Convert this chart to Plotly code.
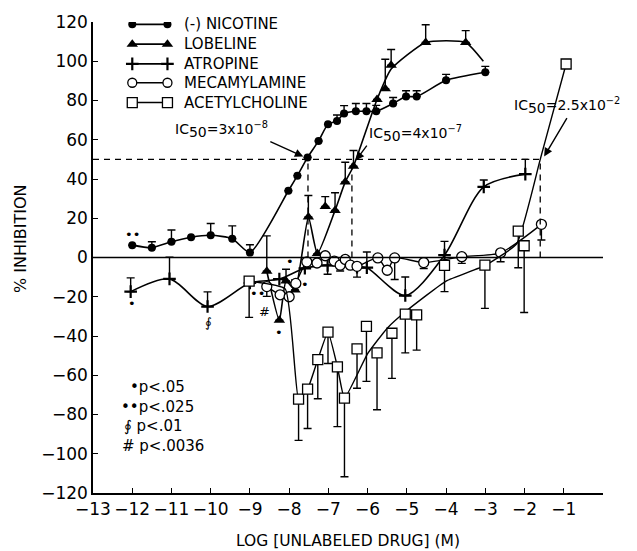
import plotly.graph_objects as go

# ---- data: log molar concentration vs % inhibition ----
nic_x = [-12.0, -11.5, -11.0, -10.5, -10.0, -9.45, -9.0, -8.02, -7.79, -7.53, -7.25, -7.01,
         -6.78, -6.6, -6.3, -6.03, -5.78, -5.35, -5.02, -4.75, -4.0, -3.0]
nic_y = [6.3, 5.0, 8.0, 10.3, 11.3, 9.6, 2.5, 34.0, 41.7, 51.0, 59.4, 67.9,
         69.6, 73.4, 74.5, 74.5, 74.5, 78.5, 82.0, 82.0, 90.3, 94.4]
nic_err = [0, 3, 6, 0, 6, 6.5, 4, 0, 0, 0, 0, 0,
           3, 4, 4, 4, 3, 3, 3, 3, 3, 3]

lob_x = [-8.57, -8.25, -8.08, -7.85, -7.51, -7.28, -7.08, -6.83, -6.57, -6.36,
         -5.76, -5.55, -5.4, -4.52, -3.5]
lob_y = [-7.0, -32.0, -12.0, -16.5, 20.6, 2.0, 26.0, 24.0, 38.5, 46.5,
         80.5, 86.0, 98.0, 109.6, 109.6]
lob_err = [18, 0, 6, 5, 11, 0, 5, 9, 10, 8,
           0, 15, 8, 9, 6]
lob_curve_x = [-8.57, -8.25, -8.08, -7.85, -7.51, -7.28, -6.83, -6.57, -6.36,
               -5.76, -5.4, -4.52, -3.5, -3.05]
lob_curve_y = [-7.0, -32.0, -12.0, -16.5, 20.6, 2.0, 24.0, 38.5, 46.5,
               80.5, 96.0, 109.6, 109.6, 100.0]

atr_x = [-12.04, -11.05, -10.08, -9.0, -8.25, -7.6, -7.02, -6.27, -6.02, -5.04,
         -4.04, -3.04, -1.98]
atr_y = [-17.4, -10.9, -25.0, -13.0, -11.0, -5.5, -4.0, -5.0, -5.2, -19.4,
         1.2, 36.0, 42.5]
atr_err_up = [7, 11, 7.5, 0, 0, 0, 0, 0, 8, 9.5,
              7, 3.5, 7.5]
atr_err_dn = [0, 0, 0, 0, 0, 0, 4.5, 5, 0, 0,
              0, 0, 0]

mec_x = [-8.57, -8.23, -8.0, -7.83, -7.55, -7.29, -7.08, -6.85, -6.7, -6.57, -6.44,
         -6.27, -5.74, -5.5, -5.31, -4.57, -3.6, -2.61, -1.57]
mec_y = [-14.8, -19.0, -20.0, -13.2, -2.2, -2.8, 0.9, -1.8, -3.9, -1.0, -3.9,
         -4.5, -0.2, -6.5, -0.2, -2.6, 0.4, 2.4, 16.9]
mec_err_dn = [5, 0, 0, 0, 0, 0, 0, 0, 3, 0, 0,
              0, 0, 0, 11, 3, 3.4, 4.6, 8]

ach_x = [-9.02, -7.76, -7.53, -7.27, -7.01, -6.77, -6.59, -6.27, -6.03, -5.76,
         -5.38, -5.04, -4.75, -4.04, -3.01, -2.16, -2.01, -0.94]
ach_y = [-12.0, -72.2, -67.1, -52.0, -38.0, -55.7, -71.7, -46.6, -35.1, -48.6,
         -38.6, -28.9, -29.2, -4.0, -3.9, 13.4, 6.0, 98.6]
ach_err_dn = [18.5, 21, 20, 20, 16, 30.5, 40, 20, 28, 29,
              23, 19.7, 18, 13.4, 22, 18.6, 34, 0]
# drawn line: joined segments at low doses, then the fitted curve
ach_line_x = [-9.02, -8.1, -7.76, -7.53, -7.27, -7.01, -6.77, -6.59, -6.0, -5.5,
              -5.0, -4.0, -3.0, -2.2, -1.6, -0.94]
ach_line_y = [-12.0, -16.0, -72.2, -67.1, -52.0, -38.0, -55.7, -71.7, -49.0, -36.0,
              -27.0, -12.0, -4.0, 7.0, 50.0, 98.6]

ic50_x = [-7.52, -6.4, -1.6]
ic50_level = 50

x_ticks = list(range(-13, 0))
y_ticks = list(range(-120, 121, 20))

FONT = "DejaVu Sans"
BLACK = "black"

fig = go.Figure()


def err(plus, minus=None):
    return dict(type="data", symmetric=False, array=plus,
                arrayminus=minus if minus is not None else [0] * len(plus),
                color=BLACK, thickness=1.4, width=4)


# reference lines
fig.add_hline(y=0, line=dict(color=BLACK, width=1.4))
fig.add_shape(type="line", x0=-13, x1=max(ic50_x), y0=ic50_level, y1=ic50_level,
              line=dict(color=BLACK, width=1.3, dash="6px,5px"))
for xv in ic50_x:
    fig.add_shape(type="line", x0=xv, x1=xv, y0=0, y1=ic50_level,
                  line=dict(color=BLACK, width=1.3, dash="6px,5px"))

# nicotine
fig.add_trace(go.Scatter(x=nic_x, y=nic_y, mode="lines+markers",
                         line=dict(color=BLACK, width=1.6, shape="spline", smoothing=0.6),
                         marker=dict(symbol="circle", size=8, color=BLACK),
                         error_y=err(nic_err), showlegend=False))
# lobeline
fig.add_trace(go.Scatter(x=lob_curve_x, y=lob_curve_y, mode="lines",
                         line=dict(color=BLACK, width=1.6, shape="spline", smoothing=0.5),
                         hoverinfo="skip", showlegend=False))
fig.add_trace(go.Scatter(x=lob_x, y=lob_y, mode="markers",
                         marker=dict(symbol="triangle-up", size=10, color=BLACK),
                         error_y=err(lob_err), showlegend=False))
# atropine
fig.add_trace(go.Scatter(x=atr_x, y=atr_y, mode="lines+markers",
                         line=dict(color=BLACK, width=1.6, shape="spline", smoothing=0.8),
                         marker=dict(symbol="cross-thin", size=9,
                                     line=dict(color=BLACK, width=2.2)),
                         error_y=err(atr_err_up, atr_err_dn), showlegend=False))
# mecamylamine
fig.add_trace(go.Scatter(x=mec_x, y=mec_y, mode="lines+markers",
                         line=dict(color=BLACK, width=1.4, shape="spline", smoothing=0.6),
                         marker=dict(symbol="circle", size=10, color="white",
                                     line=dict(color=BLACK, width=1.3)),
                         error_y=err([0] * len(mec_x), mec_err_dn), showlegend=False))
# acetylcholine
fig.add_trace(go.Scatter(x=ach_line_x, y=ach_line_y, mode="lines",
                         line=dict(color=BLACK, width=1.4, shape="spline", smoothing=0.4),
                         hoverinfo="skip", showlegend=False))
fig.add_trace(go.Scatter(x=ach_x, y=ach_y, mode="markers",
                         marker=dict(symbol="square", size=10, color="white",
                                     line=dict(color=BLACK, width=1.3)),
                         error_y=err([0] * len(ach_x), ach_err_dn), showlegend=False))

# key in the upper left (drawn on an overlay axis spanning the plot box)
key_names = ["(-) NICOTINE", "LOBELINE", "ATROPINE", "MECAMYLAMINE", "ACETYLCHOLINE"]
key_rows = [0.995, 0.953, 0.911, 0.871, 0.829]
key_markers = [
    dict(symbol="circle", size=8, color=BLACK),
    dict(symbol="triangle-up", size=10, color=BLACK),
    dict(symbol="cross-thin", size=9, line=dict(color=BLACK, width=2.2)),
    dict(symbol="circle", size=9, color="white", line=dict(color=BLACK, width=1.3)),
    dict(symbol="square", size=10, color="white", line=dict(color=BLACK, width=1.3)),
]
for name, ry, mk in zip(key_names, key_rows, key_markers):
    fig.add_trace(go.Scatter(x=[0.077, 0.146], y=[ry, ry], mode="lines+markers",
                             xaxis="x2", yaxis="y2", line=dict(color=BLACK, width=1.6),
                             marker=mk, hoverinfo="skip", showlegend=False))
    fig.add_annotation(x=0.174, y=ry, xref="x2", yref="y2", text=name, showarrow=False,
                       xanchor="left", yanchor="middle",
                       font=dict(family=FONT, size=15, color=BLACK))

# IC50 labels; each arrow leaves a corner of its label and points at the curve
SUB = "<sub><span style='font-size:14px'>50</span></sub>"
ic50_labels = [
    ("IC" + SUB + "=3x10<sup>−8</sup>", (-7.64, 51.5), (-8.48, 59.0), "right", "bottom"),
    ("IC" + SUB + "=4x10<sup>−7</sup>", (-6.3, 49.5), (-6.02, 57.0), "left", "bottom"),
    ("IC" + SUB + "=2.5x10<sup>−2</sup>", (-1.5, 51.5), (-0.92, 71.0), "center", "bottom"),
]
for text, head, tail, xa, ya in ic50_labels:
    fig.add_annotation(x=head[0], y=head[1], ax=tail[0], ay=tail[1], axref="x", ayref="y",
                       text=text, xanchor=xa, yanchor=ya, showarrow=True,
                       arrowhead=2, arrowsize=1.2, arrowwidth=1.4, arrowcolor=BLACK,
                       font=dict(family=FONT, size=14, color=BLACK))

# significance marks beside points
sig_marks = [("••", -12.0, 11.5), ("•", -12.0, -23.5), ("∮", -10.05, -33.0),
             ("••", -8.8, -18.5), ("#", -8.62, -27.5), ("•", -8.25, -38.0),
             ("•", -7.99, -2.0), ("•", -7.6, -14.0)]
for s, sx, sy in sig_marks:
    fig.add_annotation(x=sx, y=sy, text=s, showarrow=False,
                       font=dict(family=FONT, size=13, color=BLACK))

# significance key
sig_key = ["•p<.05", "••p<.025", "∮ p<.01", "# p<.0036"]
sig_key_x = [-12.12, -12.35, -12.25, -12.3]
sig_key_y = [-66, -76, -86, -96]
for s, sx, sy in zip(sig_key, sig_key_x, sig_key_y):
    fig.add_annotation(x=sx, y=sy, text=s, showarrow=False, xanchor="left",
                       font=dict(family=FONT, size=15, color=BLACK))

# axis titles
fig.add_annotation(x=-0.165, y=0.54, xref="paper", yref="paper", text="% INHIBITION",
                   textangle=-90, showarrow=False,
                   font=dict(family=FONT, size=16, color=BLACK))
fig.add_annotation(x=0.5, y=-0.101, xref="paper", yref="paper", xanchor="center",
                   yanchor="middle", text="LOG [UNLABELED DRUG] (M)", showarrow=False,
                   font=dict(family=FONT, size=15.5, color=BLACK))

axis_common = dict(showgrid=False, zeroline=False, showline=True, linecolor=BLACK,
                   linewidth=1.5, ticks="inside", ticklen=5, tickwidth=1.3,
                   tickcolor=BLACK, tickfont=dict(family=FONT, size=17, color=BLACK))

fig.update_layout(
    width=637, height=551,
    margin=dict(l=93, r=34, t=19, b=58),
    plot_bgcolor="white", paper_bgcolor="white",
    xaxis=dict(range=[-13, 0], tickvals=x_ticks,
               ticktext=[f"−{abs(v)}" for v in x_ticks], **axis_common),
    yaxis=dict(range=[-120, 120], tickvals=y_ticks,
               ticktext=[(f"−{abs(v)}" if v < 0 else str(v)) for v in y_ticks],
               **axis_common),
    xaxis2=dict(overlaying="x", range=[0, 1], visible=False, anchor="y2"),
    yaxis2=dict(overlaying="y", range=[0, 1], visible=False, anchor="x2"),
    showlegend=False,
)

fig.write_html("out.html")
